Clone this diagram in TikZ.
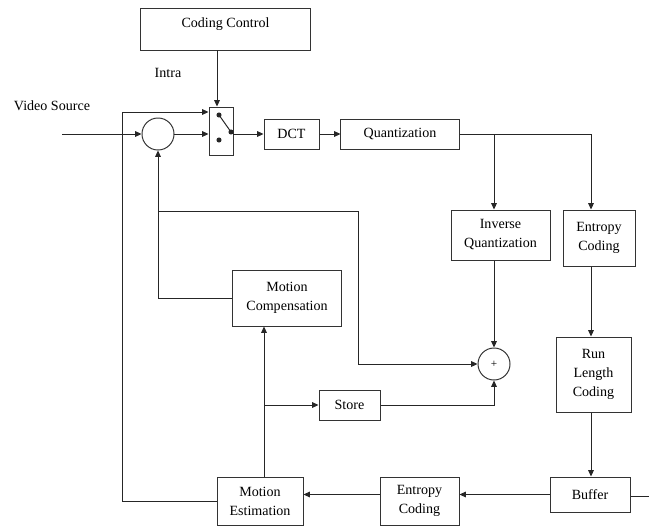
\documentclass[tikz,border=0pt]{standalone}
\usepackage{fontspec}
\setmainfont{Liberation Serif}
\usetikzlibrary{arrows.meta}

\begin{document}
\begin{tikzpicture}[
  x=0.025cm, y=-0.025cm,
  block/.style={rectangle, draw=black!80, line width=0.7pt, align=center, inner sep=1pt},
  sum/.style={circle, draw=black!80, line width=0.7pt, minimum size=0.8cm, inner sep=0pt, font=\fontsize{8}{10}\selectfont},
  link/.style={-{Triangle[length=4.5pt,width=4pt]}, line width=0.7pt, black!85},
  plain/.style={line width=0.7pt, black!85},
  font=\fontsize{10}{13.5}\selectfont
]
\useasboundingbox (0,0) rectangle (649,526);

\node[block, minimum width=4.225cm, minimum height=1.05cm, text depth=0.32cm] (ctrl) at (225.5,29) {Coding Control};
\node (intra) at (168,73) {Intra};
\node (src) at (52,106) {Video Source};
\node[sum] (sub) at (158,134) {};
\node[block, minimum width=0.6cm, minimum height=1.2cm] (sw) at (221,131) {};
\node[block, minimum width=1.375cm, minimum height=0.75cm] (dct) at (291.5,134) {DCT};
\node[block, minimum width=2.95cm, minimum height=0.75cm] (quant) at (400,134) {Quantization};
\node[block, minimum width=2.475cm, minimum height=1.25cm] (iq) at (500.5,235) {Inverse\\Quantization};
\node[block, minimum width=1.8cm, minimum height=1.4cm] (ec) at (599,238) {Entropy\\Coding};
\node[sum] (add) at (494,364) {+};
\node[block, minimum width=2.7cm, minimum height=1.4cm] (mc) at (287,298) {Motion\\Compensation};
\node[block, minimum width=1.525cm, minimum height=0.75cm] (store) at (349.5,405) {Store};
\node[block, minimum width=1.875cm, minimum height=1.875cm] (rlc) at (593.5,374.5) {Run\\Length\\Coding};
\node[block, minimum width=2.15cm, minimum height=1.2cm] (me) at (260,501) {Motion\\Estimation};
\node[block, minimum width=1.975cm, minimum height=1.2cm] (ec2) at (419.5,501) {Entropy\\Coding};
\node[block, minimum width=2cm, minimum height=0.875cm] (buf) at (590,494.5) {Buffer};

\fill[black!85] (219,115) circle[radius=1.8pt];
\fill[black!85] (219,140) circle[radius=1.8pt];
\fill[black!85] (231,132) circle[radius=1.8pt];
\draw[plain] (219,115) -- (231,132);

\coordinate (in) at (62,134);
\coordinate (fb) at (122,112);
\coordinate (ex) at (591,134);
\coordinate (qx) at (add.north |- quant.east);
\coordinate (out) at (649,496);
\coordinate (mx) at (264,405);
\coordinate (br) at (158,211);
\coordinate (bx) at (358,211);

\draw[link] ([xshift=-0.1cm]sw.north |- ctrl.south) -- ([xshift=-0.1cm]sw.north);
\draw[link] (in) -- (sub);
\draw[link] (sub) -- (sub -| sw.west);
\draw[link] (me.west) -| (fb) -- (fb -| sw.west);
\draw[link] (dct.west -| sw.east) -- (dct);
\draw[link] (dct) -- (quant);
\draw[plain] (quant) -- (ex);
\draw[link] (ex) -- (ex |- ec.north);
\draw[link] (qx) -- (qx |- iq.north);
\draw[link] (add.north |- iq.south) -- (add);
\draw[link] (ex |- ec.south) -- (ex |- rlc.north);
\draw[link] (ex |- rlc.south) -- (ex |- buf.north);
\draw[plain] (buf.east |- out) -- (out);
\draw[link] (buf.west) -- (buf.west -| ec2.east);
\draw[link] (ec2.west |- buf.west) -- (me.east |- buf.west);
\draw[link] (mx |- me.north) -- (mx |- mc.south);
\draw[link] (mx) -- (store);
\draw[link] (store) -| (add);
\draw[link] (mc) -| (sub);
\draw[link] (br) -- (bx) |- (add);
\end{tikzpicture}
\end{document}
